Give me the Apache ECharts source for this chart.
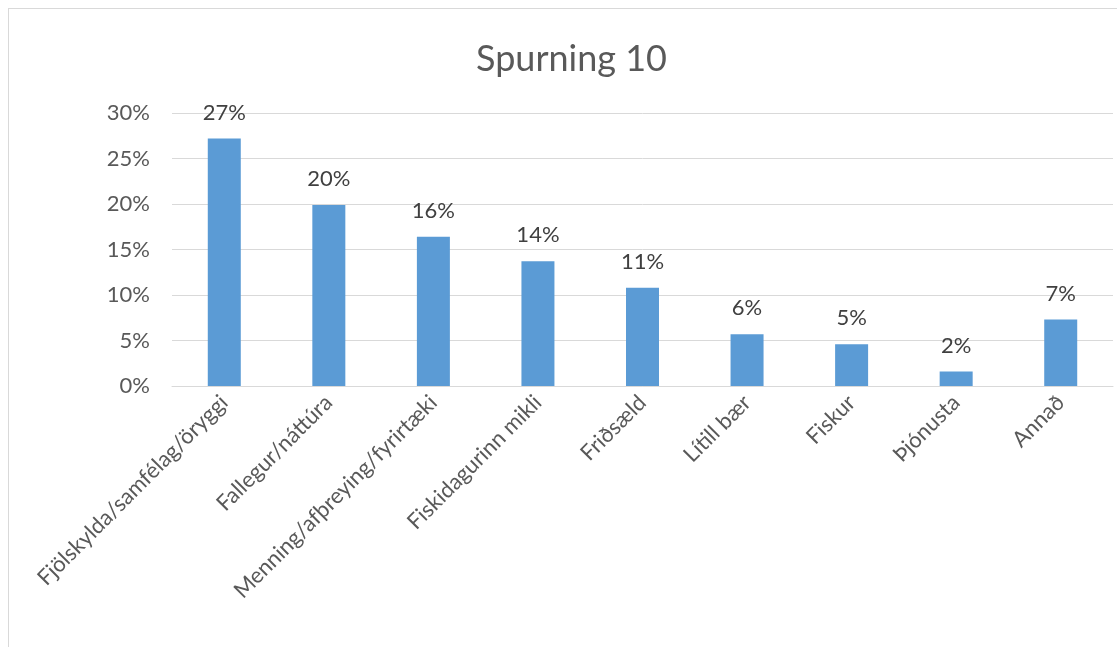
<!DOCTYPE html>
<html><head><meta charset="utf-8">
<script src="https://cdn.jsdelivr.net/npm/echarts@6/dist/echarts.min.js"></script>
<style>
html,body{margin:0;padding:0;background:#fff;}
#frame{position:absolute;left:8px;top:8px;width:1109px;height:639px;border-left:1px solid #d9d9d9;border-top:1px solid #d9d9d9;box-sizing:border-box;}
#c{position:absolute;left:0;top:0;width:1117px;height:647px;}
</style></head>
<body>
<div id="frame"></div>
<div id="c"></div>
<script>
const categories = ["Fjölskylda/samfélag/öryggi","Fallegur/náttúra","Menning/afþreying/fyrirtæki","Fiskidagurinn mikli","Friðsæld","Lítill bær","Fiskur","Þjónusta","Annað"];
const values = [27.2, 19.9, 16.4, 13.7, 10.8, 5.7, 4.6, 1.6, 7.3];
const yTicks = [0, 5, 10, 15, 20, 25, 30];
const titleText = "Spurning 10";

const font = "Lato, 'Open Sans', sans-serif";
const chart = echarts.init(document.getElementById('c'), null, {renderer:'canvas'});
chart.setOption({
  animation:false,
  title:{text:titleText,left:471,top:36,textStyle:{fontFamily:font,fontSize:36,fontWeight:'normal',color:'#595959'}},
  grid:{left:172,right:4,top:113,bottom:261,containLabel:false},
  xAxis:{type:'category',data:categories,
    axisLine:{lineStyle:{color:'#d9d9d9',width:1}},axisTick:{show:false},
    axisLabel:{rotate:45,interval:0,fontFamily:font,fontSize:22,color:'#595959',margin:13}},
  yAxis:{type:'value',min:yTicks[0],max:yTicks[yTicks.length-1],interval:5,
    axisLine:{show:false},axisTick:{show:false},
    splitLine:{lineStyle:{color:'#d9d9d9',width:1}},
    axisLabel:{formatter:v=>v+'%',fontFamily:font,fontSize:22,color:'#595959',margin:22}},
  series:[{type:'bar',data:values,barWidth:33,
    itemStyle:{color:'#5b9bd5'},
    label:{show:true,position:'top',distance:15,formatter:p=>Math.round(p.value)+'%',fontFamily:font,fontSize:22,color:'#404040'}}]
});
</script>
</body></html>
